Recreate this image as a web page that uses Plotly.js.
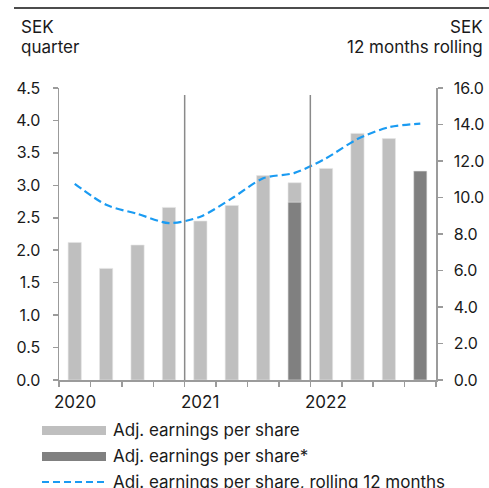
<!DOCTYPE html>
<html>
<head>
<meta charset="utf-8">
<script src="https://cdn.plot.ly/plotly-3.0.1.min.js"></script>
<style>html,body{margin:0;padding:0;background:#fff;}#chart{width:489px;height:488px;}</style>
</head>
<body>
<div id="chart"></div>
<script>
const quarters = ['Q1 2020','Q2 2020','Q3 2020','Q4 2020','Q1 2021','Q2 2021','Q3 2021','Q4 2021','Q1 2022','Q2 2022','Q3 2022','Q4 2022'];
const adjEps = [2.12, 1.72, 2.08, 2.66, 2.45, 2.69, 3.15, 3.04, 3.26, 3.80, 3.72, null];
const adjEpsStar = [null, null, null, null, null, null, null, 2.74, null, null, null, 3.22];
const rolling12m = [10.75, 9.6, 9.1, 8.6, 8.95, 9.95, 11.05, 11.35, 12.15, 13.2, 13.85, 14.05];
const yearLabels = ['2020', '2021', '2022'];
const yearStarts = ['Q1 2020', 'Q1 2021', 'Q1 2022'];
const legendNames = ['Adj. earnings per share', 'Adj. earnings per share*', 'Adj. earnings per share, rolling 12 months'];

const FONT = 'Inter, "Liberation Sans", Arial, sans-serif';
const AXC = '#9b9b9b';
const LIGHT = '#bfbfbf', DARK = '#808080', BLUE = '#1a9bf2';

const L = 59, R = 436, T = 88, B = 380;
const px = x => (x - L) / (R - L);
const py = y => (B - y) / (B - T);

const traces = [
  {type:'bar', x: quarters, y: adjEps, name: legendNames[0], marker:{color: LIGHT, line:{color:'#e6e6e6', width:0.6}}, width:0.42, showlegend:false, hoverinfo:'skip'},
  {type:'bar', x: quarters, y: adjEpsStar, name: legendNames[1], marker:{color: DARK, line:{color:'#e6e6e6', width:0.6}}, width:0.42, showlegend:false, hoverinfo:'skip'},
  {type:'scatter', mode:'lines', x: quarters, y: rolling12m, yaxis:'y2', name: legendNames[2], line:{color: BLUE, width:2.2, dash:'8px,4px', shape:'spline', smoothing:0.8}, showlegend:false, hoverinfo:'skip'}
];

const shapes = [
  {type:'line', xref:'paper', yref:'paper', x0: px(14), x1: px(489), y0: py(8), y1: py(8), line:{color:'#111', width:1.5}},
  {type:'line', xref:'x', yref:'paper', x0: 3.5, x1: 3.5, y0: 0, y1: py(95), line:{color:'#8a8a8a', width:1.5}},
  {type:'line', xref:'x', yref:'paper', x0: 7.5, x1: 7.5, y0: 0, y1: py(95), line:{color:'#8a8a8a', width:1.5}},
  {type:'rect', xref:'paper', yref:'paper', x0: px(42), x1: px(106), y0: py(426), y1: py(435), fillcolor: LIGHT, line:{width:0}},
  {type:'rect', xref:'paper', yref:'paper', x0: px(42), x1: px(106), y0: py(452), y1: py(461), fillcolor: DARK, line:{width:0}},
  {type:'line', xref:'paper', yref:'paper', x0: px(42), x1: px(106), y0: py(482), y1: py(482), line:{color: BLUE, width:2, dash:'7px,4px'}}
];

const tick = {family: FONT, size: 16, color:'#1a1a1a'};
const txt = {family: FONT, size: 17, color:'#1a1a1a'};
const annotations = [
  {xref:'paper', yref:'paper', x: px(19), y: py(27), text:'SEK', showarrow:false, xanchor:'left', yanchor:'middle', font: txt},
  {xref:'paper', yref:'paper', x: px(19), y: py(47), text:'quarter', showarrow:false, xanchor:'left', yanchor:'middle', font: txt},
  {xref:'paper', yref:'paper', x: px(485), y: py(27), text:'SEK', showarrow:false, xanchor:'right', yanchor:'middle', font: txt},
  {xref:'paper', yref:'paper', x: px(485), y: py(47), text:'12 months rolling', showarrow:false, xanchor:'right', yanchor:'middle', font: txt}
];
yearLabels.forEach((t, i) => annotations.push({xref:'x', yref:'paper', x: yearStarts[i], y: py(402), text: t, showarrow:false, xanchor:'center', yanchor:'middle', font: txt}));
legendNames.forEach((t, i) => annotations.push({xref:'paper', yref:'paper', x: px(111), y: py(430 + 26*i), text: t, showarrow:false, xanchor:'left', yanchor:'middle', font: txt}));

const layout = {
  width: 489, height: 488,
  margin: {l: L, r: 489 - R, t: T, b: 488 - B, pad: 0},
  paper_bgcolor:'#fff', plot_bgcolor:'#fff',
  barmode:'overlay',
  showlegend:false,
  font: tick,
  xaxis: {type:'category', categoryorder:'array', categoryarray: quarters, range:[-0.5, 11.5], tickson:'boundaries', ticks:'outside', ticklen:5, tickcolor: AXC, tickwidth:1.5, showticklabels:false, showgrid:false, zeroline:false, showline:true, linecolor: AXC, linewidth:1.5, fixedrange:true},
  yaxis: {range:[0, 4.5], dtick:0.5, tick0:0, tickformat:'.1f', ticks:'outside', ticklen:5, tickcolor: AXC, tickwidth:1.5, showgrid:false, zeroline:false, showline:true, linecolor: AXC, linewidth:1.5, ticklabelstandoff: 9, tickfont: tick, fixedrange:true},
  yaxis2: {overlaying:'y', side:'right', range:[0, 16], dtick:2, tick0:0, tickformat:'.1f', ticks:'outside', ticklen:5, tickcolor: AXC, tickwidth:1.5, showgrid:false, zeroline:false, showline:true, linecolor: AXC, linewidth:1.5, ticklabelstandoff: 8, tickfont: tick, fixedrange:true},
  shapes, annotations
};

Plotly.newPlot('chart', traces, layout, {displayModeBar:false, staticPlot:true});
</script>
</body>
</html>
